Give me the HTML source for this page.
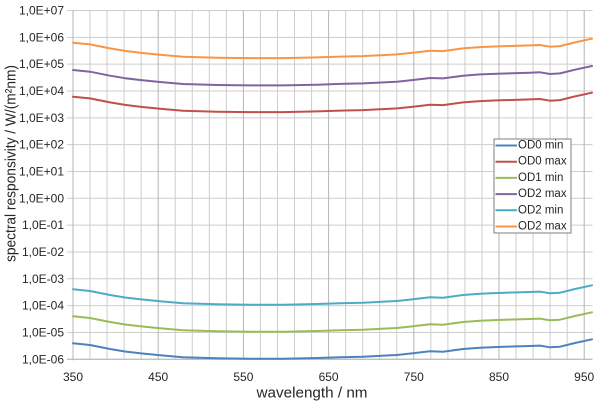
<!DOCTYPE html>
<html>
<head>
<meta charset="utf-8">
<style>
html,body{margin:0;padding:0;background:#fff;}
svg{display:block;}
text{font-family:"Liberation Sans",sans-serif;fill:#262626;}
</style>
</head>
<body>
<svg width="600" height="404" viewBox="0 0 600 404" xmlns="http://www.w3.org/2000/svg">
<rect width="600" height="404" fill="#fff"/>
<g id="grid"></g>
<g id="series"></g>
<g id="labels"></g>
<g id="legend"></g>
</svg>
<script>
(function(){
var NS="http://www.w3.org/2000/svg";
function el(tag,attrs,parent,txt){var e=document.createElementNS(NS,tag);for(var k in attrs)e.setAttribute(k,attrs[k]);if(txt!==undefined)e.textContent=txt;parent.appendChild(e);return e;}
var grid=document.getElementById('grid'),ser=document.getElementById('series'),lab=document.getElementById('labels'),leg=document.getElementById('legend');
var top=10.5,step=26.83,bottom=top+13*step;
var x0=73,pxPerNm=0.852;
function X(nm){return x0+(nm-350)*pxPerNm;}
var xr=592.5;
var ylabels=["1,0E+07","1,0E+06","1,0E+05","1,0E+04","1,0E+03","1,0E+02","1,0E+01","1,0E+00","1,0E-01","1,0E-02","1,0E-03","1,0E-04","1,0E-05","1,0E-06"];
for(var k=0;k<=13;k++){
  var y=top+k*step;
  el('line',{x1:67,x2:xr,y1:y,y2:y,stroke:'#cdcdcd','stroke-width':1},grid);
  el('text',{x:64,y:y,'text-anchor':'end','dominant-baseline':'central','font-size':12},lab,ylabels[k]);
}
for(var nm=350;nm<=950;nm+=20){
  var x=X(nm);
  var major=((nm-350)%100===0)&&nm!==350;
  el('line',{x1:x,x2:x,y1:top,y2:bottom+1,stroke:major?'#b4b4b4':'#cdcdcd','stroke-width':1},grid);
}
el('line',{x1:x0,x2:x0,y1:top,y2:bottom+1,stroke:'#b4b4b4','stroke-width':1},grid);
el('line',{x1:67,x2:xr,y1:bottom,y2:bottom,stroke:'#b4b4b4','stroke-width':1},grid);
[350,450,550,650,750,850,950].forEach(function(v){
  el('text',{x:X(v),y:377,'text-anchor':'middle','dominant-baseline':'central','font-size':12},lab,String(v));
});
el('text',{x:312,y:393,'text-anchor':'middle','dominant-baseline':'central','font-size':15,textLength:111,lengthAdjust:'spacingAndGlyphs'},lab,'wavelength / nm');
el('text',{x:0,y:0,'text-anchor':'middle','dominant-baseline':'central','font-size':15,transform:'translate(11,163.5) rotate(-90)',textLength:197,lengthAdjust:'spacingAndGlyphs'},lab,'spectral responsivity  / W/(m\u00B2nm)');
var base=[[73,343.3],[90,345],[110,349],[125,351.5],[140,353.3],[160,355.3],[183,357.3],[217,358.3],[250,358.7],[283,358.7],[317,358],[340,357.2],[363,356.7],[397,355],[413,353.3],[430,351.3],[443,351.7],[463,349],[480,347.7],[497,347],[530,346],[540,345.6],[550,347.3],[560,346.7],[575,343],[592,339.3]];
var series=[
 {c:'#4F81BD',o:0,n:'OD0 min'},
 {c:'#C0504D',o:-246.6,n:'OD0 max'},
 {c:'#9BBB59',o:-27,n:'OD1 min'},
 {c:'#8064A2',o:-273.3,n:'OD2 max'},
 {c:'#4BACC6',o:-54,n:'OD2 min'},
 {c:'#F79646',o:-300.6,n:'OD2 max'}
];
series.forEach(function(s){
  var pts=base.map(function(p){return p[0]+','+(p[1]+s.o).toFixed(1);}).join(' ');
  el('polyline',{points:pts,fill:'none',stroke:s.c,'stroke-width':2,'stroke-linejoin':'round','stroke-linecap':'round'},ser);
});
el('rect',{x:494,y:139,width:77,height:94,fill:'#fff',stroke:'#7f7f7f','stroke-width':1},leg);
series.forEach(function(s,i){
  var y=145.5+16.2*i;
  el('line',{x1:495.5,x2:517,y1:y,y2:y,stroke:s.c,'stroke-width':2},leg);
  el('text',{x:518,y:y,'dominant-baseline':'central','font-size':11.5},leg,s.n);
});
})();
</script>
</body>
</html>
